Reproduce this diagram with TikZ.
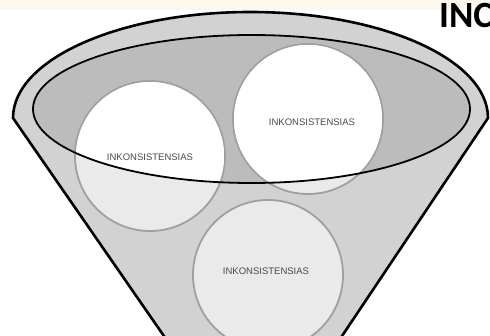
\documentclass[tikz,border=0pt]{standalone}
\usepackage{fontspec}
\usepackage{xcolor}
\usepackage{tikz}
\usetikzlibrary{
arrows.meta,
positioning,
shapes.geometric,
calc
}
\setmainfont{Liberation Sans}
\newfontfamily\funtitlefont{Carlito}
\definecolor{FunCream}{HTML}{FCF8EC}
\definecolor{FunBand}{HTML}{D2D2D2}
\definecolor{FunInner}{HTML}{BCBCBC}
\definecolor{FunDisc}{HTML}{EAEAEA}
\definecolor{FunEdge}{HTML}{A0A0A0}
\definecolor{FunText}{HTML}{4A4A4A}
\tikzset{
funrim/.style={draw=black, line width=2.6pt, fill=FunBand, line join=round},
funinner/.style={fill=FunInner},
funring/.style={draw=black, line width=1.8pt},
fundisc/.style={circle, draw=FunEdge, line width=1.8pt, fill=FunDisc, minimum size=150pt, inner sep=0pt},
funlabel/.style={text=FunText, font=\fontsize{9.5}{11}\selectfont, inner sep=0pt},
funtitle/.style={anchor=base west, inner sep=0pt, font=\funtitlefont\bfseries\fontsize{37}{40}\selectfont}
}
\begin{document}
\begin{tikzpicture}[x=1pt, y=1pt]
\clip (0,0) rectangle (490,335);
\fill[white] (0,0) rectangle (490,335);
\fill[FunCream] (0,325) rectangle (490,335);
\draw[funrim] (13,217) arc[start angle=180, end angle=0, x radius=237.5, y radius=106]
  -- (340,-4) -- (166,-4) -- cycle;
\fill[funinner] (251.5,226) ellipse [x radius=218.5, y radius=74];
\node[fundisc] (left) at (150,179) {};
\node[fundisc] (right) at (308,216) {};
\node[fundisc] (bottom) at (268,60) {};
\begin{scope}
\clip (251.5,226) ellipse [x radius=218.5, y radius=74];
\fill[white] (left.center) circle[radius=74];
\fill[white] (right.center) circle[radius=74];
\fill[white] (bottom.center) circle[radius=74];
\end{scope}
\node[funlabel] (leftlabel) at ([yshift=-1pt]left.center) {INKONSISTENSIAS};
\node[funlabel] (rightlabel) at ([xshift=4pt, yshift=-3pt]right.center) {INKONSISTENSIAS};
\node[funlabel] (bottomlabel) at ([xshift=-2pt, yshift=4pt]bottom.center) {INKONSISTENSIAS};
\draw[funring] (251.5,226) ellipse [x radius=218.5, y radius=74];
\node[funtitle] (title) at (439,307) {INC};
\end{tikzpicture}
\end{document}
